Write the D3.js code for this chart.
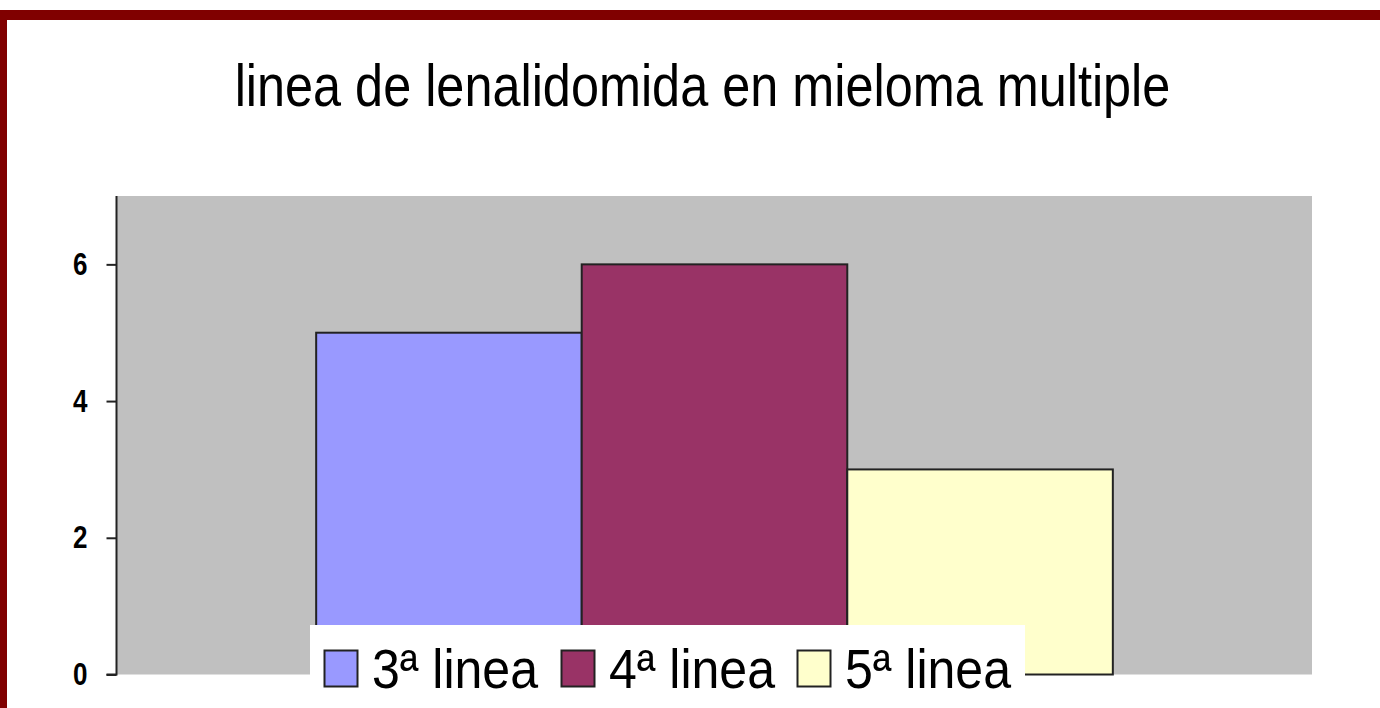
<!DOCTYPE html>
<html>
<head>
<meta charset="utf-8">
<script src="https://cdn.jsdelivr.net/npm/d3@7"></script>
<style>
  html, body { margin: 0; padding: 0; background: #ffffff; }
  svg { display: block; }
</style>
</head>
<body>
<div id="chart"></div>
<script>
// ---- data ----
const title = "linea de lenalidomida en mieloma multiple";
const categories = [""];
const seriesNames = ["3ª linea", "4ª linea", "5ª linea"];
const seriesValues = [5, 6, 3];
const seriesColors = ["#9999FF", "#993366", "#FFFFCC"];
const yTicks = [0, 2, 4, 6];
const yMax = 7;

const W = 1380, H = 708;
const squeeze = 0.84; // horizontal compression of the reference's text

const svg = d3.select("#chart").append("svg")
  .attr("width", W).attr("height", H);

// outer frame (dark red)
svg.append("rect").attr("x", 0).attr("y", 10).attr("width", W).attr("height", 10).attr("fill", "#800000");
svg.append("rect").attr("x", 0).attr("y", 10).attr("width", 7).attr("height", H - 10).attr("fill", "#800000");

function squeezeText(sel, factor) {
  sel.each(function () {
    const len = this.getComputedTextLength();
    d3.select(this).attr("textLength", len * factor).attr("lengthAdjust", "spacingAndGlyphs");
  });
}

// title
const t = svg.append("text")
  .attr("x", 702.5).attr("y", 106)
  .attr("text-anchor", "middle")
  .style("font-family", "'Liberation Sans', Arial, sans-serif")
  .style("font-size", "60px")
  .attr("fill", "#000")
  .text(title);
squeezeText(t, squeeze);

// plot area
const plot = { left: 117, right: 1312, top: 196, bottom: 674.5 };

svg.append("rect")
  .attr("x", plot.left).attr("y", plot.top)
  .attr("width", plot.right - plot.left).attr("height", plot.bottom - plot.top)
  .attr("fill", "#C0C0C0");

const y = d3.scaleLinear().domain([0, yMax]).range([plot.bottom, plot.top]);
const x0 = d3.scaleBand().domain(categories).range([plot.left, plot.right])
  .paddingInner(0).paddingOuter(0.25);
const x1 = d3.scaleBand().domain(seriesNames).range([0, x0.bandwidth()]).padding(0);

// bars
svg.append("g").selectAll("rect")
  .data(seriesNames.map((s, i) => ({ cat: categories[0], name: s, value: seriesValues[i], color: seriesColors[i] })))
  .join("rect")
  .attr("x", d => x0(d.cat) + x1(d.name))
  .attr("y", d => y(d.value))
  .attr("width", x1.bandwidth())
  .attr("height", d => y(0) - y(d.value))
  .attr("fill", d => d.color)
  .attr("stroke", "#222")
  .attr("stroke-width", 2);

// y axis
const yAxis = d3.axisLeft(y).tickValues(yTicks).tickSize(10).tickPadding(0).tickFormat(d3.format("d"));
const ga = svg.append("g").attr("transform", `translate(${plot.left - 0.5},0)`).call(yAxis);
ga.attr("font-size", null).attr("font-family", null);
ga.select(".domain").attr("d", `M-10,${y(0)}H0V${plot.top}`).attr("stroke", "#222").attr("stroke-width", 2);
ga.selectAll(".tick line").attr("stroke", "#222").attr("stroke-width", 2);
ga.selectAll(".tick text")
  .attr("x", null).attr("dy", null)
  .attr("transform", "translate(-29,10) scale(0.84,1)")
  .style("font-family", "'Liberation Sans', Arial, sans-serif")
  .style("font-weight", "bold")
  .style("font-size", "31px")
  .attr("fill", "#000");

// legend
const legend = svg.append("g");
legend.append("rect")
  .attr("x", 310).attr("y", 625).attr("width", 715).attr("height", 100)
  .attr("fill", "#ffffff");

const legendItemX = [324, 561, 797];
const items = legend.selectAll("g.item")
  .data(seriesNames.map((s, i) => ({ name: s, color: seriesColors[i], x: legendItemX[i] })))
  .join("g").attr("class", "item")
  .attr("transform", d => `translate(${d.x},0)`);
items.append("rect")
  .attr("x", 0.5).attr("y", 650.5).attr("width", 33).attr("height", 36)
  .attr("fill", d => d.color).attr("stroke", "#222").attr("stroke-width", 2);
const lt = items.append("text")
  .attr("x", 48).attr("y", 688)
  .style("font-family", "'Liberation Sans', Arial, sans-serif")
  .style("font-size", "55px")
  .attr("fill", "#000")
  .text(d => d.name);
squeezeText(lt, 0.91);
</script>
</body>
</html>
